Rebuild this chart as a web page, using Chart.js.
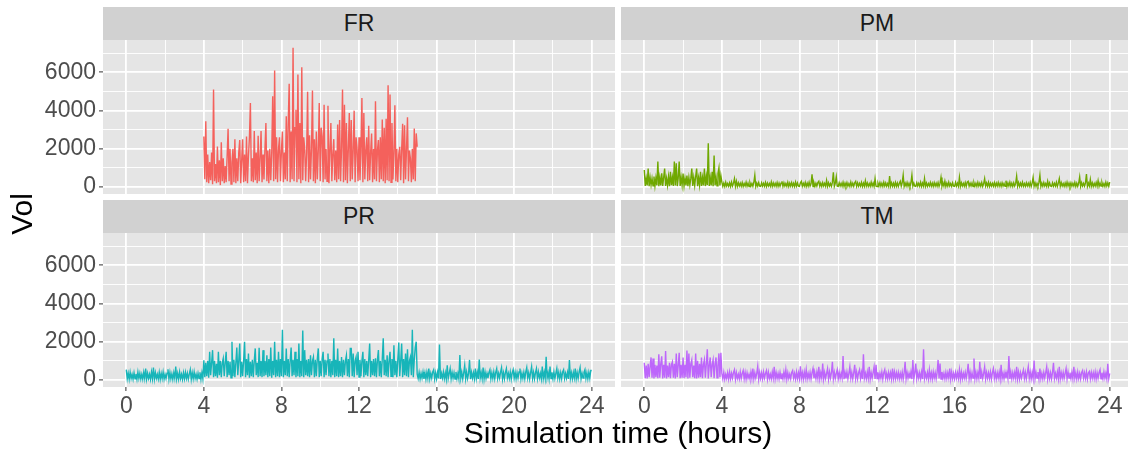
<!DOCTYPE html>
<html>
<head>
<meta charset="utf-8">
<script src="https://cdn.jsdelivr.net/npm/chart.js@4.4.0/dist/chart.umd.min.js"></script>
<style>
  body { margin: 0; width: 1128px; height: 451px; overflow: hidden; position: relative; background: #fff;
         font-family: 'Liberation Sans', Arial, sans-serif; }
  canvas { position: absolute; }
  .strip { position: absolute; width: 512px; height: 33px; background: #d1d1d1; color: #1a1a1a;
           font-size: 23px; line-height: 33px; text-align: center; }
  #xtitle { position: absolute; left: 103px; width: 1030px; top: 418px; font-size: 30px; line-height: 30px;
            text-align: center; color: #000; }
  #ytitle { position: absolute; left: -28px; top: 194px; width: 100px; height: 40px; line-height: 40px;
            font-size: 30px; text-align: center; transform: rotate(-90deg); color: #000; }
</style>
</head>
<body>
<div class="strip" style="left:103px;top:7px">FR</div>
<div class="strip" style="left:621px;top:7px">PM</div>
<div class="strip" style="left:103px;top:200px">PR</div>
<div class="strip" style="left:621px;top:200px">TM</div>
<canvas id="fr" width="615" height="154" style="left:0;top:40px"></canvas>
<canvas id="pm" width="512" height="154" style="left:621px;top:40px"></canvas>
<canvas id="pr" width="615" height="190" style="left:0;top:233px"></canvas>
<canvas id="tm" width="512" height="190" style="left:621px;top:233px"></canvas>
<div id="xtitle">Simulation time (hours)</div>
<div id="ytitle">Vol</div>
<script>
// axis breaks (ggplot major + minor)
const xBreaks = [0, 2, 4, 6, 8, 10, 12, 14, 16, 18, 20, 22, 24];
const yBreaks = [0, 1000, 2000, 3000, 4000, 5000, 6000, 7000];

// FR: sampled every 0.05 h from 4 h to 15 h
const frStart = 4, frStep = 0.05;
const frVol = [
  2640,400,3430,250,1700,200,1300,350,1800,150,
  5090,300,1200,200,2110,250,1400,100,2340,300,
  1500,200,1100,250,1600,3040,300,2000,150,1300,
  2000,250,2500,200,1500,300,1800,2450,200,1400,
  2500,250,1700,300,2640,200,1600,2600,4390,300,
  1500,250,2930,350,1800,200,2680,300,1500,2930,
  250,1700,400,2000,3340,300,1900,200,2000,350,
  1800,4740,300,6090,400,2600,250,2000,2600,300,
  1900,2900,250,1800,400,3690,300,3340,5400,250,
  2900,400,7280,300,3100,4040,250,5880,400,3340,
  200,6260,350,2600,2000,300,1800,4970,250,2700,
  400,2000,5040,300,2500,200,2900,400,1900,4390,
  300,3100,2640,250,4300,400,2000,300,4250,200,
  1900,3340,300,1700,2500,350,1900,250,3260,400,
  3500,300,2000,5090,250,4300,350,3340,200,2000,
  3860,300,3500,400,1900,3990,250,2600,2000,300,
  2600,350,1800,4650,250,3860,400,1900,2600,300,
  3200,350,1800,2800,250,2000,400,4480,300,1900,
  2450,250,2600,400,3520,300,3100,200,3560,350,
  5320,300,4830,250,3340,400,1800,4270,300,2000,
  250,1700,2100,350,2000,3300,200,3220,400,2000,
  3640,300,1900,1500,250,2000,400,3050,300,2800,
  2100
];

// PM, PR, TM: sampled every 0.05 h from 0 h to 24 h (one line = one hour)
const fullStart = 0, fullStep = 0.05;
const pmVol = [
  890,60,450,80,960,40,500,100,450,60, 550,50,480,90,1330,40,500,80,720,60,
  500,960,60,450,80,550,40,800,100,500, 60,1330,80,1240,50,480,1330,60,500,90,
  700,50,450,80,600,40,500,100,450,960, 60,500,80,550,960,40,480,90,800,60,
  500,80,960,50,550,100,2290,60,500,80, 800,40,1640,90,500,60,700,1000,80,600,
  260,40,200,30,250,50,180,40,220,30, 260,50,200,440,40,300,30,220,50,200,
  40,230,30,180,50,250,40,200,30,220, 50,180,40,250,620,30,200,50,230,40,
  30,220,50,190,40,240,30,200,50,180, 40,260,30,210,50,190,40,230,30,200,
  40,200,300,30,220,50,180,40,250,30, 200,50,230,40,190,30,260,50,210,40,
  30,220,300,40,190,50,240,30,200,40, 250,50,180,660,30,220,40,200,50,230,
  300,40,200,30,230,50,190,40,350,30, 220,50,180,40,240,770,30,200,530,40,
  30,220,50,190,40,250,30,200,50,230, 40,180,30,260,50,200,40,220,300,30,
  220,40,190,50,240,30,200,40,330,50, 210,30,180,40,250,50,200,30,440,40,
  30,200,50,230,40,190,30,250,50,210, 40,180,30,570,50,220,40,200,30,240,
  40,210,30,190,300,40,230,620,30,200, 50,240,40,190,30,220,620,50,200,40,
  30,220,50,190,40,250,30,200,50,440, 40,210,30,180,50,240,40,200,30,230,
  50,200,40,230,30,190,500,40,220,50, 300,30,200,40,250,50,180,30,220,40,
  30,240,50,200,40,500,30,220,50,190, 40,230,30,260,300,40,200,50,210,30,
  220,40,190,30,240,50,200,40,230,30, 180,440,50,210,40,250,30,200,50,190,
  40,230,30,200,50,240,40,190,30,220, 50,180,40,330,30,210,50,250,40,200,
  30,220,50,190,570,40,230,30,200,50, 250,40,180,30,220,50,200,40,240,30,
  200,500,40,220,30,190,50,240,620,30, 200,40,230,50,180,30,300,40,210,50,
  30,220,40,190,50,250,30,200,440,40, 230,50,180,30,210,40,250,50,200,30,
  220,40,190,50,240,30,200,40,210,530, 30,230,50,190,40,220,680,30,200,50,
  400,40,220,30,190,50,240,40,330,30, 200,50,230,40,180,30,250,50,210,40,
  260
];
const prVol = [
  540,60,350,30,400,80,300,40,380,60, 320,30,420,80,350,50,300,40,400,70,
  600,40,350,80,300,30,420,60,650,40, 380,80,300,50,400,30,350,70,420,40,
  300,80,350,560,40,400,60,320,30,380, 80,700,50,350,40,420,70,300,30,380,
  60,400,80,350,40,320,540,30,380,60, 420,80,300,40,350,70,400,30,380,60,
  1030,150,900,200,1000,120,1470,250,900,1560, 150,1000,200,850,120,1470,250,1000,150,900,
  1130,200,900,1470,150,1000,250,950,120,2000, 200,1050,150,900,1700,250,1000,1910,150,950,
  200,1000,2000,150,1100,250,1380,120,950,200, 1050,150,1000,1650,250,900,150,1680,200,1000,
  150,1560,200,1000,250,1290,150,1100,200,1700, 120,1000,250,2000,150,1050,200,1470,150,1100,
  200,2630,150,1000,250,1650,200,1100,150,1000, 1700,200,1050,250,1470,150,1100,200,1910,150,
  1000,200,2590,150,1560,250,1050,200,1100,150, 1290,250,1000,1200,150,1050,200,1100,1650,150,
  1000,200,1100,1470,150,1050,250,1000,1380,200, 1100,150,1000,250,2180,150,1050,200,1650,150,
  1000,200,1200,150,1050,250,1000,1290,200,1100, 150,1650,1650,200,1380,150,1000,1200,250,1470,
  150,1050,200,1000,1470,150,1100,250,1000,200, 1050,1900,150,1000,250,1100,200,1130,150,1050,
  1560,200,1000,150,1100,2180,250,1050,200,1290, 150,1000,1470,200,1100,150,1820,250,1000,150,
  1050,1960,200,1000,1910,150,1100,250,1380,200, 1600,150,1000,1200,250,2630,150,1050,1700,2000,
  300,80,400,50,350,100,420,60,380,40, 400,80,600,60,350,100,420,540,50,380,
  60,400,80,1850,50,350,100,420,60,380, 40,770,80,350,600,60,400,100,380,50,
  420,80,350,60,1300,100,400,50,380,770, 60,420,80,350,1050,40,400,100,380,60,
  600,80,400,50,1070,100,380,60,650,40, 420,80,350,100,400,540,60,380,80,420,
  60,400,600,80,350,100,420,650,50,380, 60,400,600,100,350,80,420,40,380,540,
  80,400,60,380,100,420,600,50,350,80, 400,60,420,650,100,380,50,400,700,80,
  400,60,380,600,80,420,100,350,50,700, 60,400,80,1210,100,380,50,700,80,400,
  60,420,80,350,600,100,400,50,380,60, 420,540,80,350,100,400,60,1050,80,380,
  60,400,100,600,50,380,80,420,650,60, 350,100,400,540,80,380,60,400,100,500,
  500
];
const tmVol = [
  900,100,750,80,850,150,700,1180,120,1120, 80,800,150,750,100,1350,120,850,1240,80,
  800,120,1520,80,750,150,900,100,800,950, 120,850,80,1390,150,750,1420,100,800,120,
  1180,100,800,150,1540,80,1390,120,850,1060, 150,750,100,1390,80,1000,120,850,150,1180,
  100,800,1060,120,850,1600,80,750,1180,150, 800,1060,100,850,1180,120,750,1390,150,1420,
  350,60,400,40,300,80,380,50,420,60, 350,100,400,540,40,380,80,300,60,420,
  80,350,500,60,400,40,380,100,300,60, 420,80,600,50,380,100,350,720,40,400,
  80,380,60,420,100,350,500,40,400,80, 300,60,420,100,690,50,380,80,350,60,
  400,80,350,60,420,100,540,40,380,80, 300,60,400,500,100,350,50,420,80,380,
  60,720,80,380,40,420,100,540,60,350, 80,400,50,380,600,100,350,60,420,80,
  690,60,380,100,860,50,400,80,350,600, 40,420,100,380,950,60,400,80,350,540,
  60,400,80,350,100,1250,40,380,80,420, 60,350,690,100,400,50,380,790,80,420,
  60,380,540,80,400,50,1340,100,350,60, 420,80,690,40,380,100,400,690,60,790,
  80,400,60,350,100,420,40,380,540,80, 350,60,400,100,380,50,600,80,420,60,
  380,100,400,60,350,80,420,40,380,950, 60,400,100,350,80,420,50,1050,60,380,
  860,80,400,100,380,60,420,50,1600,80, 350,100,400,60,540,80,380,40,420,100,
  380,60,400,1050,80,860,50,420,100,350, 60,400,80,380,100,600,40,420,80,350,
  60,400,100,380,80,540,40,420,60,350, 100,400,80,380,850,60,420,50,380,100,
  1120,80,400,60,380,100,950,50,420,80, 350,690,60,400,100,380,80,420,50,380,
  600,80,400,60,380,100,420,50,790,80, 350,60,400,100,380,80,1250,50,420,60,
  380,100,400,80,690,60,420,50,380,100, 350,540,80,400,60,380,690,80,420,50,
  400,80,1020,60,380,100,420,50,600,80, 350,60,400,100,380,690,50,420,80,380,
  60,400,900,80,350,100,420,60,690,50, 380,100,400,80,350,600,60,420,100,380,
  80,400,60,690,100,380,50,420,80,350, 60,400,500,100,380,80,420,50,380,450,
  60,400,100,380,80,420,50,380,100,400, 540,60,380,80,420,100,350,60,850,80,
  350
];

const FONT = "'Liberation Sans', Arial, sans-serif";

const panelBg = {
  id: 'panelBg',
  beforeDraw(chart) {
    const {ctx, chartArea: a} = chart;
    ctx.save();
    ctx.fillStyle = '#e5e5e5';
    ctx.fillRect(a.left, a.top, a.right - a.left, a.bottom - a.top);
    ctx.restore();
  }
};

function toPoints(start, step, vals) {
  return vals.map((v, i) => ({x: start + i * step, y: v}));
}

function noPad(s) {
  s.paddingTop = 0; s.paddingBottom = 0; s.paddingLeft = 0; s.paddingRight = 0;
}

function makeChart(id, points, color, width, showY, showX) {
  new Chart(document.getElementById(id), {
    type: 'line',
    data: {
      datasets: [{
        data: points,
        borderColor: color,
        borderWidth: width,
        borderJoinStyle: 'miter',
        pointRadius: 0,
        tension: 0,
        fill: false
      }]
    },
    options: {
      responsive: false,
      animation: false,
      devicePixelRatio: 1,
      layout: {padding: 0},
      plugins: {legend: {display: false}, tooltip: {enabled: false}},
      scales: {
        x: {
          type: 'linear', min: -1.2, max: 25.2,
          afterBuildTicks: s => { s.ticks = xBreaks.map(v => ({value: v})); },
          afterFit: s => { s.height = showX ? 36 : 0; noPad(s); },
          border: {display: false},
          grid: {
            color: '#ffffff',
            lineWidth: c => (c.tick && c.tick.value % 4 === 0) ? 1.8 : 0.9,
            drawTicks: showX, tickLength: 4, tickWidth: 1,
            tickColor: c => (c.tick && c.tick.value % 4 === 0) ? '#333333' : 'rgba(0,0,0,0)'
          },
          ticks: {
            display: showX, autoSkip: false, maxRotation: 0, padding: 2,
            color: '#4d4d4d', font: {family: FONT, size: 23},
            callback: v => v % 4 === 0 ? v : ''
          }
        },
        y: {
          min: -365, max: 7680,
          afterBuildTicks: s => { s.ticks = yBreaks.map(v => ({value: v})); },
          afterFit: s => { s.width = showY ? 103 : 0; noPad(s); },
          border: {display: false},
          grid: {
            color: '#ffffff',
            lineWidth: c => (c.tick && c.tick.value % 2000 === 0) ? 1.8 : 0.9,
            drawTicks: showY, tickLength: 4, tickWidth: 1,
            tickColor: c => (c.tick && c.tick.value % 2000 === 0) ? '#333333' : 'rgba(0,0,0,0)'
          },
          ticks: {
            display: showY, autoSkip: false, padding: 3,
            color: '#4d4d4d', font: {family: FONT, size: 23},
            callback: v => v % 2000 === 0 ? v : ''
          }
        }
      }
    },
    plugins: [panelBg]
  });
}

makeChart('fr', toPoints(frStart, frStep, frVol), '#f4615c', 1.4, true, false);
makeChart('pm', toPoints(fullStart, fullStep, pmVol), '#6fa800', 1.4, false, false);
makeChart('pr', toPoints(fullStart, fullStep, prVol), '#17b5b9', 1.4, true, true);
makeChart('tm', toPoints(fullStart, fullStep, tmVol), '#bd66fb', 1.4, false, true);
</script>
</body>
</html>
